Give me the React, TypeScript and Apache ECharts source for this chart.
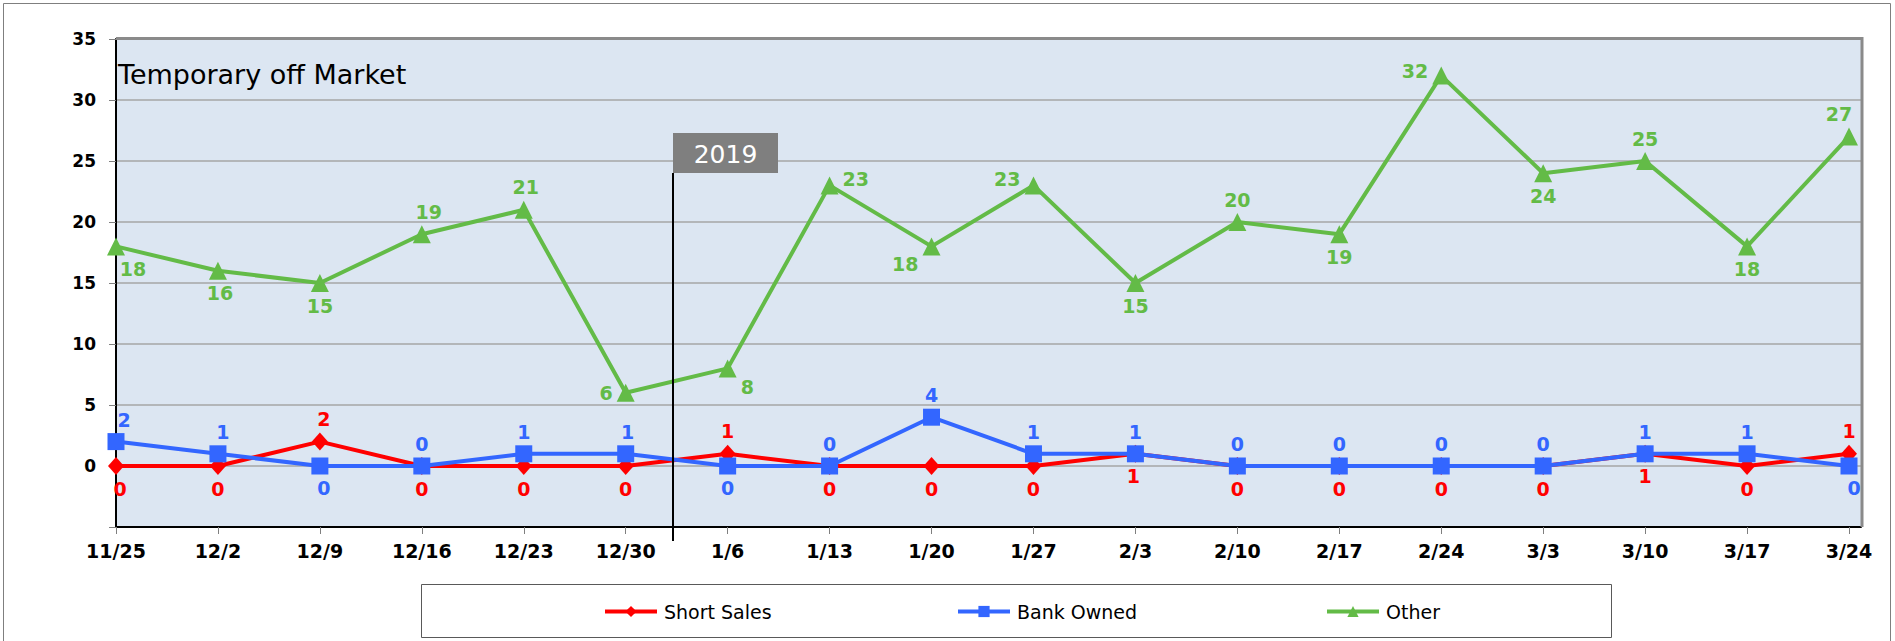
import React, { useEffect, useRef } from "react";
import * as echarts from "echarts";

const dates = ["11/25", "12/2", "12/9", "12/16", "12/23", "12/30", "1/6", "1/13", "1/20", "1/27", "2/3", "2/10", "2/17", "2/24", "3/3", "3/10", "3/17", "3/24"];
const shortSales = [0, 0, 2, 0, 0, 0, 1, 0, 0, 0, 1, 0, 0, 0, 0, 1, 0, 1];
const bankOwned = [2, 1, 0, 0, 1, 1, 0, 0, 4, 1, 1, 0, 0, 0, 0, 1, 1, 0];
const other = [18, 16, 15, 19, 21, 6, 8, 23, 18, 23, 15, 20, 19, 32, 24, 25, 18, 27];
const yTicks = [-5, 0, 5, 10, 15, 20, 25, 30, 35];

// label placement styles: [position, dx, dy]
const shortLabelPlace: [string, number, number][] = [
  ["bottom", 4, 0], ["bottom", 0, 0], ["top", 4, 0], ["bottom", 0, 0], ["bottom", 0, 0], ["bottom", 0, 0],
  ["top", 0, 0], ["bottom", 0, 0], ["bottom", 0, 0], ["bottom", 0, 0], ["bottom", -2, 0], ["bottom", 0, 0],
  ["bottom", 0, 0], ["bottom", 0, 0], ["bottom", 0, 0], ["bottom", 0, 0], ["bottom", 0, 0], ["top", 0, 0],
];
const bankLabelPlace: [string, number, number][] = [
  ["top", 8, 0], ["top", 5, 0], ["bottom", 4, 0], ["top", 0, 0], ["top", 0, 0], ["top", 2, 0],
  ["bottom", 0, 0], ["top", 0, 0], ["top", 0, 0], ["top", 0, 0], ["top", 0, 0], ["top", 0, 0],
  ["top", 0, 0], ["top", 0, 0], ["top", 0, 0], ["top", 0, 0], ["top", 0, 0], ["bottom", 5, 0],
];
const otherLabelPlace: [string, number, number][] = [
  ["bottom", 17, 0], ["bottom", 2, 0], ["bottom", 0, 0], ["top", 7, 0], ["top", 2, 0], ["left", 0, 0],
  ["right", 0, 19], ["right", 0, -6], ["left", 0, 18], ["left", 0, -6], ["bottom", 0, 0], ["top", 0, 0],
  ["bottom", 0, 0], ["left", 0, -5], ["bottom", 0, 0], ["top", 0, 0], ["bottom", 0, 0], ["top", -10, 0],
];

const FONT = '"DejaVu Sans", "Open Sans", sans-serif';
const RED = "#FF0000";
const BLUE = "#3366FF";
const GREEN = "#63BB47";

const GRID_LEFT = 116;
const GRID_TOP = 39;
const GRID_RIGHT_EDGE = 1861;
const GRID_BOTTOM_EDGE = 527;
const LAST_CAT_X = 1849;
const step = (LAST_CAT_X - GRID_LEFT) / (dates.length - 1);
const xMax = (GRID_RIGHT_EDGE - GRID_LEFT) / step;

function makeSeries(name: string, values: number[], place: [string, number, number][], color: string, symbol: string, size: number | number[]) {
  return {
    name,
    type: "line",
    symbol,
    symbolSize: size,
    lineStyle: { color, width: 4 },
    itemStyle: { color },
    data: values.map((v, i) => ({
      value: [i, v],
      label: {
        show: true,
        position: place[i][0],
        offset: [place[i][1], place[i][2]],
        distance: 4,
      },
    })),
    label: {
      show: true,
      color,
      fontFamily: FONT,
      fontWeight: "bold",
      fontSize: 19,
      formatter: (p: any) => String(p.value[1]),
    },
    emphasis: { disabled: true },
  };
}

export default function App() {
  const ref = useRef<HTMLDivElement>(null);
  useEffect(() => {
    if (!ref.current) return;
    const chart = echarts.init(ref.current, undefined, { renderer: "svg" });
    const legendCommon = {
      top: 597,
      itemWidth: 52,
      itemHeight: 14,
      lineStyle: { width: 4 },
      textStyle: { fontFamily: FONT, fontSize: 19, color: "#000", padding: [0, 0, 0, 2] },
      selectedMode: false,
    };
    chart.setOption({
      animation: false,
      backgroundColor: "#fff",
      graphic: [
        { type: "rect", z: -10, shape: { x: 3.5, y: 3.5, width: 1887, height: 660 }, style: { fill: "#fff", stroke: "#7f7f7f", lineWidth: 1 } },
        { type: "rect", z: -9, shape: { x: GRID_LEFT, y: GRID_TOP, width: GRID_RIGHT_EDGE - GRID_LEFT, height: GRID_BOTTOM_EDGE - GRID_TOP }, style: { fill: "#DCE6F2" } },
        { type: "polyline", z: 5, shape: { points: [[GRID_LEFT, GRID_TOP - 0.5], [GRID_RIGHT_EDGE + 1, GRID_TOP - 0.5], [GRID_RIGHT_EDGE + 1, GRID_BOTTOM_EDGE]] }, style: { fill: null, stroke: "#8a8a8a", lineWidth: 3 } },
        { type: "rect", z: -5, shape: { x: 421.5, y: 584.5, width: 1190, height: 53 }, style: { fill: "#fff", stroke: "#595959", lineWidth: 1 } },
        { type: "text", z: 10, left: 118, top: 61, style: { text: "Temporary off Market", font: `27px ${FONT}`, fill: "#000" } },
        { type: "line", z: 10, shape: { x1: 673, y1: 173, x2: 673, y2: 541 }, style: { stroke: "#000", lineWidth: 2 } },
        { type: "rect", z: 10, shape: { x: 673, y: 133, width: 105, height: 40 }, style: { fill: "#7F7F7F" } },
        { type: "text", z: 11, x: 725.5, y: 154, style: { text: "2019", font: `25px ${FONT}`, fill: "#fff", align: "center", verticalAlign: "middle" } },
      ],
      grid: {
        left: GRID_LEFT,
        top: GRID_TOP,
        width: GRID_RIGHT_EDGE - GRID_LEFT,
        height: GRID_BOTTOM_EDGE - GRID_TOP,
        containLabel: false,
      },
      legend: [
        { ...legendCommon, left: 598, data: ["Short Sales"] },
        { ...legendCommon, left: 951, data: ["Bank Owned"] },
        { ...legendCommon, left: 1320, data: ["Other"] },
      ],
      xAxis: {
        type: "value",
        min: 0,
        max: xMax,
        interval: 1,
        axisLine: { onZero: false, lineStyle: { color: "#000", width: 2 } },
        axisTick: { show: true, length: 7, lineStyle: { color: "#7f7f7f" }, customValues: dates.map((_, i) => i) },
        splitLine: { show: false },
        axisLabel: {
          customValues: dates.map((_, i) => i),
          formatter: (v: number) => dates[Math.round(v)] ?? "",
          fontFamily: FONT,
          fontSize: 19,
          fontWeight: "bold",
          color: "#000",
          margin: 14,
        },
      },
      yAxis: {
        type: "value",
        min: yTicks[0],
        max: yTicks[yTicks.length - 1],
        interval: 5,
        axisLine: { show: true, onZero: false, lineStyle: { color: "#000", width: 2 } },
        axisTick: { show: true, length: 7, lineStyle: { color: "#7f7f7f" } },
        splitLine: { show: true, lineStyle: { color: "#A6A6A6", width: 1.5 } },
        axisLabel: {
          formatter: (v: number) => (v < 0 ? "" : String(v)),
          fontFamily: FONT,
          fontSize: 17,
          fontWeight: "bold",
          color: "#000",
          margin: 20,
        },
      },
      series: [
        makeSeries("Short Sales", shortSales, shortLabelPlace, RED, "diamond", [16, 18]),
        makeSeries("Bank Owned", bankOwned, bankLabelPlace, BLUE, "rect", 17),
        makeSeries("Other", other, otherLabelPlace, GREEN, "triangle", 18),
      ],
    });
    return () => chart.dispose();
  }, []);
  return <div ref={ref} style={{ position: "fixed", left: 0, top: 0, width: 1895, height: 641 }} />;
}
